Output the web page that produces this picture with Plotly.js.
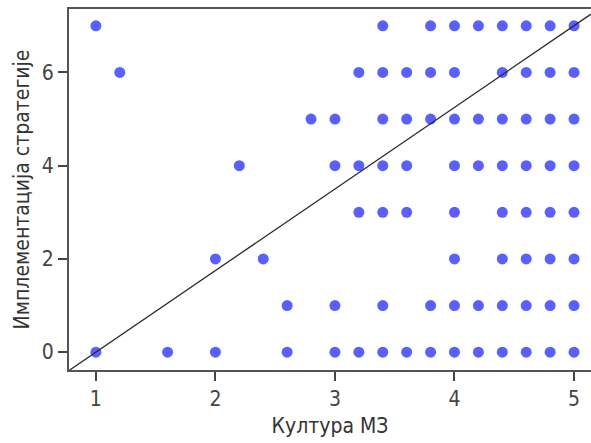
<!DOCTYPE html>
<html>
<head>
<meta charset="utf-8">
<script src="https://cdn.plot.ly/plotly-3.0.1.min.js"></script>
<style>html,body{margin:0;padding:0;background:#fff;}#chart{width:591px;height:443px;}</style>
</head>
<body>
<div id="chart"></div>
<script>
// Points per row (y value) : x values (Култура МЗ)
const yLevels = [7, 6, 5, 4, 3, 2, 1, 0];
const xRow7 = [1.0, 3.4, 3.8, 4.0, 4.2, 4.4, 4.6, 4.8, 5.0];
const xRow6 = [1.2, 3.2, 3.4, 3.6, 3.8, 4.0, 4.4, 4.6, 4.8, 5.0];
const xRow5 = [2.8, 3.0, 3.4, 3.6, 3.8, 4.0, 4.2, 4.4, 4.6, 4.8, 5.0];
const xRow4 = [2.2, 3.0, 3.2, 3.4, 3.6, 4.0, 4.2, 4.4, 4.6, 4.8, 5.0];
const xRow3 = [3.2, 3.4, 3.6, 4.0, 4.4, 4.6, 4.8, 5.0];
const xRow2 = [2.0, 2.4, 4.0, 4.4, 4.6, 4.8, 5.0];
const xRow1 = [2.6, 3.0, 3.4, 3.8, 4.0, 4.2, 4.4, 4.6, 4.8, 5.0];
const xRow0 = [1.0, 1.6, 2.0, 2.6, 3.0, 3.2, 3.4, 3.6, 3.8, 4.0, 4.2, 4.4, 4.6, 4.8, 5.0];

// Reference line endpoints
const lineX = [0.775, 5.142];
const lineY = [-0.394, 7.25];

const xTicks = [1, 2, 3, 4, 5];
const yTicks = [0, 2, 4, 6];
const xTitle = 'Култура МЗ';
const yTitle = 'Имплементација стратегије';

const rows = [xRow7, xRow6, xRow5, xRow4, xRow3, xRow2, xRow1, xRow0];
const px = [], py = [];
rows.forEach((r, i) => r.forEach(x => { px.push(x); py.push(yLevels[i]); }));

const font = '"Liberation Sans Narrow", "DejaVu Sans Condensed", Arial, sans-serif';

const traces = [
  {x: px, y: py, type: 'scatter', mode: 'markers',
   marker: {color: 'rgb(90,95,255)', size: 11, line: {width: 0}}, hoverinfo: 'x+y'},
  {x: lineX, y: lineY, type: 'scatter', mode: 'lines',
   line: {color: '#2a2a2a', width: 1.3}, hoverinfo: 'skip'}
];

const layout = {
  width: 591, height: 443,
  margin: {l: 69, r: 0, t: 9, b: 73},
  paper_bgcolor: '#fff', plot_bgcolor: '#fff',
  showlegend: false,
  font: {family: font, color: '#333', size: 21},
  xaxis: {
    range: [0.775, 5.142], tickvals: xTicks, ticktext: xTicks.map(String),
    showgrid: false, zeroline: false,
    showline: true, linecolor: '#555', linewidth: 2, mirror: true,
    ticks: 'outside', ticklen: 9, tickwidth: 2, tickcolor: '#444',
    tickfont: {size: 21, color: '#444', family: font},
    title: {text: xTitle, font: {size: 21, color: '#333', family: font}, standoff: 8}
  },
  yaxis: {
    range: [-0.383, 7.36], tickvals: yTicks, ticktext: yTicks.map(String),
    showgrid: false, zeroline: false,
    showline: true, linecolor: '#555', linewidth: 2,
    ticks: 'outside', ticklen: 9, tickwidth: 2, tickcolor: '#444',
    tickfont: {size: 21, color: '#444', family: font},
    title: {text: yTitle, font: {size: 21, color: '#333', family: font}, standoff: 6}
  }
};

Plotly.newPlot('chart', traces, layout, {displayModeBar: false, staticPlot: true});
</script>
</body>
</html>
